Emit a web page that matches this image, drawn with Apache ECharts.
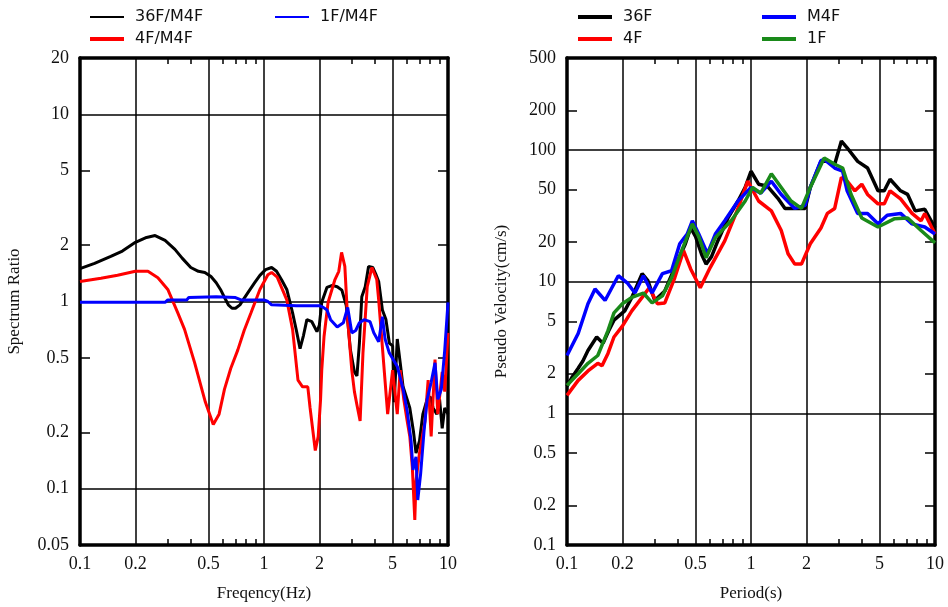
<!DOCTYPE html>
<html><head><meta charset="utf-8">
<script src="https://cdn.jsdelivr.net/npm/echarts@6/dist/echarts.min.js"></script>
<style>html,body{margin:0;padding:0;background:#fff}#c{width:948px;height:607px}</style>
</head><body><div id="c"></div><script>
// ---------- Left panel: spectrum ratio vs frequency (Hz) ----------
const ratio36F = [[0.1,1.50],[0.12,1.60],[0.147,1.74],[0.17,1.86],[0.2,2.07],[0.23,2.20],[0.256,2.25],[0.29,2.12],[0.328,1.90],[0.36,1.70],[0.40,1.52],[0.44,1.45],[0.477,1.43],[0.515,1.36],[0.55,1.26],[0.58,1.16],[0.61,1.05],[0.64,0.96],[0.67,0.92],[0.70,0.92],[0.74,0.96],[0.77,1.02],[0.83,1.14],[0.89,1.26],[0.95,1.38],[1.02,1.48],[1.10,1.52],[1.17,1.45],[1.25,1.30],[1.33,1.16],[1.43,0.87],[1.50,0.70],[1.57,0.56],[1.64,0.66],[1.71,0.80],[1.82,0.78],[1.94,0.69],[2.0,0.75],[2.06,0.99],[2.2,1.19],[2.35,1.22],[2.5,1.20],[2.65,1.15],[2.8,0.95],[2.95,0.55],[3.1,0.42],[3.2,0.40],[3.3,0.60],[3.4,1.06],[3.55,1.20],[3.7,1.54],[3.9,1.52],[4.05,1.40],[4.2,1.28],[4.4,0.90],[4.6,0.80],[4.8,0.60],[5.0,0.58],[5.1,0.29],[5.3,0.63],[5.5,0.47],[5.7,0.35],[6.0,0.30],[6.2,0.27],[6.5,0.20],[6.7,0.155],[7.0,0.18],[7.3,0.25],[7.7,0.30],[8.0,0.31],[8.3,0.27],[8.7,0.25],[9.0,0.30],[9.3,0.21],[9.6,0.27],[10,0.25]];
const ratio4F = [[0.1,1.28],[0.13,1.33],[0.16,1.38],[0.2,1.45],[0.234,1.45],[0.265,1.34],[0.30,1.16],[0.34,0.87],[0.37,0.71],[0.42,0.47],[0.48,0.29],[0.53,0.22],[0.57,0.25],[0.61,0.34],[0.66,0.44],[0.72,0.55],[0.78,0.70],[0.85,0.87],[0.95,1.16],[1.05,1.39],[1.10,1.43],[1.18,1.35],[1.25,1.18],[1.33,1.02],[1.43,0.71],[1.53,0.38],[1.62,0.35],[1.73,0.35],[1.78,0.27],[1.9,0.16],[1.97,0.19],[2.03,0.30],[2.06,0.43],[2.12,0.65],[2.23,0.99],[2.43,1.31],[2.55,1.45],[2.64,1.83],[2.75,1.54],[2.85,0.80],[3.0,0.43],[3.1,0.33],[3.2,0.28],[3.33,0.23],[3.45,0.53],[3.64,1.2],[3.86,1.52],[4.1,1.31],[4.2,1.02],[4.4,0.57],[4.7,0.25],[5.0,0.43],[5.3,0.25],[5.5,0.43],[5.75,0.30],[6.0,0.23],[6.2,0.19],[6.4,0.13],[6.6,0.068],[6.7,0.11],[7.0,0.155],[7.5,0.23],[7.8,0.38],[8.1,0.19],[8.5,0.49],[8.8,0.25],[9.3,0.42],[9.6,0.33],[10,0.68]];
const ratio1F = [[0.1,0.99],[0.2,0.99],[0.29,0.99],[0.30,1.02],[0.38,1.02],[0.39,1.05],[0.55,1.06],[0.70,1.05],[0.75,1.02],[1.0,1.02],[1.05,1.0],[1.1,0.96],[1.5,0.95],[2.0,0.95],[2.1,0.93],[2.2,0.90],[2.3,0.80],[2.5,0.73],[2.7,0.77],[2.85,0.93],[3.0,0.68],[3.15,0.70],[3.3,0.77],[3.5,0.80],[3.77,0.78],[3.95,0.68],[4.2,0.61],[4.4,0.83],[4.55,0.63],[4.8,0.53],[5.3,0.45],[5.7,0.34],[6.0,0.26],[6.3,0.18],[6.45,0.126],[6.7,0.148],[6.85,0.087],[7.1,0.12],[7.4,0.20],[7.7,0.30],[8.1,0.37],[8.5,0.47],[8.8,0.30],[9.2,0.34],[9.6,0.55],[10,0.99]];

// ---------- Right panel: pseudo velocity (cm/s) vs period (s) ----------
const pv36F = [[0.1,1.6],[0.107,1.9],[0.115,2.2],[0.122,2.5],[0.13,3.0],[0.145,3.8],[0.157,3.4],[0.168,4.2],[0.18,5.1],[0.206,6.0],[0.225,7.6],[0.256,11.5],[0.275,10.2],[0.3,7.2],[0.34,8.5],[0.385,12.8],[0.44,19.4],[0.47,25.6],[0.5,22],[0.54,16],[0.57,13.6],[0.61,15.5],[0.66,20.4],[0.75,30.5],[0.85,41],[0.93,52],[1.0,69],[1.1,55],[1.23,53],[1.4,43],[1.53,36],[1.8,36],[1.97,36],[2.1,52],[2.4,82],[2.6,82],[2.85,78],[3.1,117],[3.33,104],[3.8,82],[4.3,73],[4.9,49],[5.3,49],[5.7,60],[6.5,49],[7.1,46],[7.8,34.5],[8.8,35.5],[10,25.6]];
const pv4F = [[0.1,1.37],[0.115,1.78],[0.13,2.1],[0.147,2.4],[0.155,2.3],[0.167,2.85],[0.18,3.8],[0.2,4.6],[0.225,6.0],[0.256,7.6],[0.28,9.0],[0.31,6.8],[0.34,6.9],[0.385,10.7],[0.43,17.2],[0.47,12.5],[0.53,9.0],[0.6,12.8],[0.72,20.4],[0.85,36],[0.96,58],[1.1,41],[1.29,34.5],[1.46,24.5],[1.59,16.3],[1.73,13.6],[1.88,13.6],[2.1,19.4],[2.4,25.6],[2.6,33],[2.85,36],[3.1,62],[3.33,58],[3.67,49],[4.0,55],[4.3,46],[4.9,39],[5.3,39],[5.7,49],[6.5,42.5],[7.5,33],[8.4,29],[8.8,33],[10,23]];
const pvM4F = [[0.1,2.75],[0.115,4.04],[0.13,6.8],[0.142,8.8],[0.161,7.2],[0.19,11.1],[0.214,9.7],[0.234,8.2],[0.26,11.1],[0.29,8.2],[0.33,11.5],[0.37,12.1],[0.41,19.4],[0.45,23],[0.48,29],[0.52,23],[0.58,16.3],[0.64,23],[0.72,29],[0.85,41],[1.0,52],[1.13,47],[1.29,58],[1.46,46],[1.73,36],[1.97,38],[2.1,52],[2.4,83],[2.5,85],[2.85,73],[3.15,69],[3.33,49],[3.8,33],[4.3,33],[4.9,27.5],[5.5,32],[6.5,33],[7.5,27.5],[8.8,26],[10,23]];
const pv1F = [[0.1,1.63],[0.115,2.0],[0.13,2.4],[0.147,2.75],[0.167,4.25],[0.18,5.8],[0.2,6.8],[0.225,7.6],[0.26,8.2],[0.29,6.9],[0.33,7.8],[0.37,10.7],[0.42,17.2],[0.48,27.5],[0.52,22],[0.57,15.2],[0.64,21.6],[0.78,29],[0.93,41],[1.02,52],[1.13,47],[1.29,66],[1.46,52],[1.65,41],[1.88,36],[2.1,52],[2.5,87],[2.85,78],[3.15,73],[3.5,46],[4.0,30.5],[4.9,26],[6.0,30],[7.1,30.5],[8.4,24.5],[10,19.7]];

// ---------- Tick labels ----------
const xLabels = [0.1,0.2,0.5,1,2,5,10];
const xGrid = [0.2,0.5,1,2,5];
const xMinor = [0.3,0.4,0.6,0.7,0.8,0.9,3,4,6,7,8,9];
const leftYLabels = [0.05,0.1,0.2,0.5,1,2,5,10,20];
const leftYTicks = [0.05,0.2,0.5,2,5,20];
const leftYGrid = [0.1,1,10];
const rightYLabels = [0.1,0.2,0.5,1,2,5,10,20,50,100,200,500];
const rightYTicks = [0.1,0.2,0.5,2,5,20,50,200,500];
const rightYGrid = [1,10,100];

const SERIF = '"Liberation Serif","DejaVu Serif",serif';
const SANS = '"DejaVu Sans","Liberation Sans",sans-serif';
const fmt = v => String(+Number(v).toPrecision(3));
const frame = {show:true, lineStyle:{color:'#000', width:3.5}};

function xAxes(gi, xmin, xmax, name){
  return [
    {gridIndex:gi, type:'log', logBase:10, min:xmin, max:xmax, position:'bottom',
     axisLine:frame, axisTick:{show:true, inside:true, length:6, customValues:xMinor, lineStyle:{color:'#000',width:1.5}},
     axisLabel:{show:true, customValues:xLabels, formatter:fmt, fontFamily:SERIF, fontSize:18, color:'#111', margin:10},
     splitLine:{show:false}, name:name, nameLocation:'middle', nameGap:40,
     nameTextStyle:{fontFamily:SERIF, fontSize:17, color:'#111'}},
    {gridIndex:gi, type:'log', logBase:10, min:xmin, max:xmax, position:'top',
     axisLine:frame, axisTick:{show:true, inside:true, length:6, customValues:xMinor, lineStyle:{color:'#000',width:1.5}},
     axisLabel:{show:false}, splitLine:{show:false}},
    {gridIndex:gi, type:'log', logBase:10, min:xmin, max:xmax, position:'bottom',
     axisLine:{show:false}, axisLabel:{show:false}, axisTick:{show:false, customValues:xGrid},
     splitLine:{show:true, lineStyle:{color:'#000', width:1.5}}}
  ];
}
function yAxes(gi, ymin, ymax, labels, ticks, grid, name){
  return [
    {gridIndex:gi, type:'log', logBase:10, min:ymin, max:ymax, position:'left',
     axisLine:frame, axisTick:{show:true, inside:true, length:10, customValues:ticks, lineStyle:{color:'#000',width:1.5}},
     axisLabel:{show:true, customValues:labels, formatter:fmt, fontFamily:SERIF, fontSize:18, color:'#111', margin:11},
     splitLine:{show:false}, name:name, nameLocation:'middle', nameGap:57,
     nameTextStyle:{fontFamily:SERIF, fontSize:17, color:'#111'}},
    {gridIndex:gi, type:'log', logBase:10, min:ymin, max:ymax, position:'right',
     axisLine:frame, axisTick:{show:true, inside:true, length:10, customValues:ticks, lineStyle:{color:'#000',width:1.5}},
     axisLabel:{show:false}, splitLine:{show:false}},
    {gridIndex:gi, type:'log', logBase:10, min:ymin, max:ymax, position:'left',
     axisLine:{show:false}, axisLabel:{show:false}, axisTick:{show:false, customValues:grid},
     splitLine:{show:true, lineStyle:{color:'#000', width:1.5}}}
  ];
}
function line(name, data, color, xi, yi, w){
  return {name:name, type:'line', data:data, xAxisIndex:xi, yAxisIndex:yi, showSymbol:false,
          symbol:'none', lineStyle:{color:color, width:w||3}, itemStyle:{color:color}, z:3};
}
function leg(name, left, top, thick){
  return {data:[{name:name, icon:'rect'}], left:left, top:top, padding:0, itemWidth:34, itemHeight:thick,
          textStyle:{fontFamily:SANS, fontSize:16, color:'#111', padding:[0,0,0,6]}, selectedMode:false};
}

const chart = echarts.init(document.getElementById('c'), null, {renderer:'canvas'});
chart.setOption({
  backgroundColor:'#fff',
  animation:false,
  grid:[
    {left:80, right:500, top:58, bottom:62},
    {left:567, right:13, top:58, bottom:62}
  ],
  legend:[
    leg('36F/M4F', 90, 9, 2), leg('4F/M4F', 90, 31, 4), leg('1F/M4F', 275, 9, 2),
    leg('36F', 578, 9, 4), leg('4F', 578, 31, 4), leg('M4F', 762, 9, 4), leg('1F', 762, 31, 4)
  ],
  xAxis: [].concat(xAxes(0, 0.1, 10, 'Freqency(Hz)'), xAxes(1, 0.1, 10, 'Period(s)')),
  yAxis: [].concat(
    yAxes(0, 0.05, 20, leftYLabels, leftYTicks, leftYGrid, 'Spectrum Ratio'),
    yAxes(1, 0.1, 500, rightYLabels, rightYTicks, rightYGrid, 'Pseudo Velocity(cm/s)')),
  series:[
    line('36F/M4F', ratio36F, '#000000', 0, 0),
    line('4F/M4F', ratio4F, '#ff0000', 0, 0),
    line('1F/M4F', ratio1F, '#0000ff', 0, 0),
    line('36F', pv36F, '#000000', 3, 3, 3.5),
    line('4F', pv4F, '#ff0000', 3, 3, 3.5),
    line('M4F', pvM4F, '#0000ff', 3, 3, 3.5),
    line('1F', pv1F, '#1a8a1a', 3, 3, 3.5)
  ]
});
</script></body></html>
